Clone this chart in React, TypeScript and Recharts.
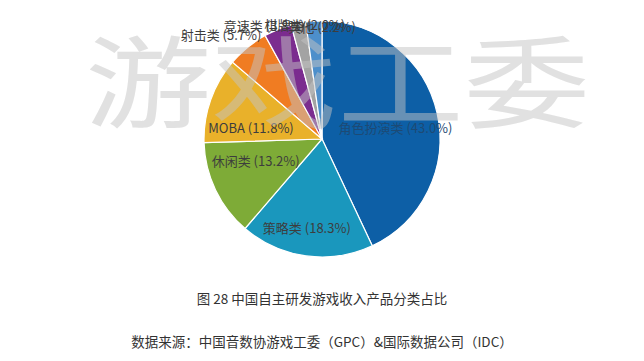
import React from "react";
import { PieChart, Pie, Cell } from "recharts";

const categories = ["角色扮演类", "策略类", "休闲类", "MOBA", "射击类", "竞速类", "棋牌类", "其他"];
const shares = [43.0, 18.3, 13.2, 11.8, 5.7, 3.8, 2.0, 2.2];
const colors = ["#0d5fa6", "#1a97bd", "#7eab37", "#e9b12a", "#f07c22", "#7b2c8f", "#a3a3a3", "#4d8fcb"];

const title = "图 28 中国自主研发游戏收入产品分类占比";
const source = "数据来源：中国音数协游戏工委（GPC）&国际数据公司（IDC）";
const watermark = "游戏工委";

// label placement per slice: radius as fraction of outerRadius, angle nudge (deg, clockwise)
const labelStyle = [
  { r: 0.63, d: 4, fill: "#1d4a74" },
  { r: 0.76, d: 2, fill: "#3d3d3d" },
  { r: 0.59, d: 8, fill: "#3d3d3d" },
  { r: 0.61, d: -10, fill: "#3d3d3d" },
  { r: 1.23, d: -5, fill: "#3d3d3d" },
  { r: 1.08, d: -5, fill: "#3d3d3d" },
  { r: 0.98, d: 3, fill: "#3d3d3d" },
  { r: 0.95, d: 4, fill: "#3d3d3d" },
];

const data = categories.map((name, i) => ({ name, value: shares[i] }));
const RAD = Math.PI / 180;
const font = "'Noto Sans CJK SC', 'Noto Sans', sans-serif";

function renderLabel(props: any) {
  const { cx, cy, midAngle, outerRadius, index } = props;
  const s = labelStyle[index];
  const a = midAngle - s.d;
  const r = outerRadius * s.r;
  const x = cx + Math.cos(-a * RAD) * r;
  const y = cy + Math.sin(-a * RAD) * r;
  return (
    <text
      x={x}
      y={y}
      textAnchor="middle"
      dominantBaseline="central"
      fontSize={13}
      fontFamily={font}
      fill={s.fill}
    >
      {`${categories[index]} (${shares[index].toFixed(1)}%)`}
    </text>
  );
}

export default function App() {
  return (
    <div style={{ position: "absolute", left: 0, top: 0, width: 644, height: 361, background: "#fff", fontFamily: font }}>
      <PieChart width={644} height={280} margin={{ top: 0, right: 0, bottom: 0, left: 0 }}>
        <Pie
          data={data}
          dataKey="value"
          cx={322}
          cy={139}
          outerRadius={118}
          startAngle={90}
          endAngle={-270}
          stroke="#ffffff"
          strokeWidth={1.2}
          label={renderLabel}
          labelLine={false}
          isAnimationActive={false}
        >
          {data.map((d, i) => (
            <Cell key={d.name} fill={colors[i]} />
          ))}
        </Pie>
      </PieChart>
      <svg width={644} height={200} style={{ position: "absolute", left: 0, top: 0, pointerEvents: "none" }}>
        <text
          x={85}
          y={120}
          fontSize={100}
          fontFamily={font}
          fontWeight={400}
          fill="#c4c4c4"
          fillOpacity={0.5}
          textLength={505}
          lengthAdjust="spacingAndGlyphs"
        >
          {watermark}
        </text>
      </svg>
      <div style={{ position: "absolute", left: 0, width: 644, top: 289, textAlign: "center", fontSize: 13.5, color: "#333", lineHeight: "18px" }}>
        {title}
      </div>
      <div style={{ position: "absolute", left: 0, width: 644, top: 332, textAlign: "center", fontSize: 13.5, color: "#333", lineHeight: "18px" }}>
        {source}
      </div>
    </div>
  );
}
